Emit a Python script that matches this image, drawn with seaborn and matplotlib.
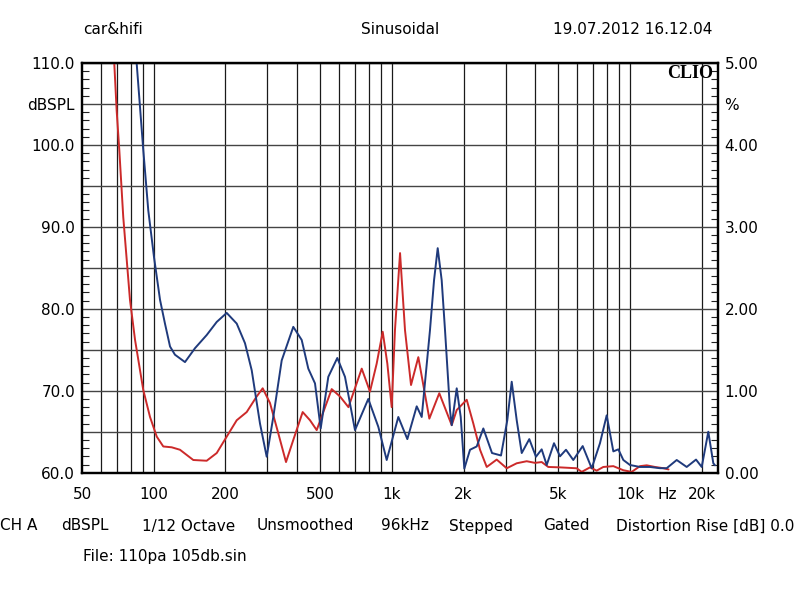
import numpy as np
import pandas as pd
import matplotlib
matplotlib.use("Agg")
import matplotlib.pyplot as plt
import seaborn as sns
from matplotlib.ticker import FixedLocator, NullFormatter, FixedFormatter

# ---------------- data ----------------
freq_blue = [81.1, 84.8, 90.4, 94.9, 100.3, 106.3, 111.5, 117.1, 122.8, 135.3, 149.1,
             166.9, 183.9, 202.5, 223.1, 241.7, 257.9, 279.4, 298.1, 317.7, 344.6,
             385.5, 418.1, 445.7, 475.5, 502.4, 540.8, 589.9, 635.4, 699.9, 795.9,
             876.9, 951.0, 1064, 1161, 1271, 1334, 1445, 1503, 1557, 1618, 1671,
             1754, 1783, 1871, 1945, 2014, 2128, 2270, 2420, 2632, 2871, 3051, 3184,
             3342, 3508, 3774, 4026, 4254, 4465, 4792, 5078, 5381, 5774, 6324, 6899,
             7474, 7975, 8504, 8925, 9367, 9989, 11005, 12118, 13350, 14245, 15693,
             17282, 18914, 19984, 21298, 22355, 22726]
thd_blue = [5.70, 5.00, 3.94, 3.20, 2.63, 2.11, 1.82, 1.54, 1.44, 1.35, 1.52,
            1.68, 1.84, 1.95, 1.82, 1.58, 1.25, 0.60, 0.195, 0.68, 1.37,
            1.78, 1.62, 1.27, 1.09, 0.54, 1.17, 1.40, 1.17, 0.52, 0.90,
            0.56, 0.155, 0.68, 0.41, 0.81, 0.68, 1.74, 2.35, 2.74, 2.35, 1.74,
            0.76, 0.58, 1.03, 0.68, 0.05, 0.28, 0.32, 0.54, 0.24, 0.21, 0.64, 1.11,
            0.64, 0.24, 0.41, 0.195, 0.285, 0.094, 0.36, 0.20, 0.28, 0.155, 0.325, 0.054,
            0.36, 0.70, 0.26, 0.285, 0.155, 0.094, 0.07, 0.07, 0.055, 0.055, 0.155,
            0.07, 0.16, 0.07, 0.50, 0.115, 0.09]

freq_red = [66.8, 68.3, 69.9, 71.7, 74.5, 79.5, 83.5, 90.4, 96.5, 103.0, 109.7, 119.0,
            128.9, 146.6, 166.9, 183.9, 202.5, 223.1, 245.7, 270.6, 286.8, 307.8,
            333.5, 359.3, 385.5, 422.1, 453.1, 483.4, 558.8, 605.6, 657, 747, 809,
            863, 915, 957, 998, 1030, 1082, 1135, 1203, 1291, 1436, 1581, 1783, 1871,
            2061, 2197, 2344, 2501, 2754, 3034, 3342, 3680, 3988, 4254, 4535, 5078,
            5967, 6264, 6787, 7240, 7717, 8504, 9367, 10155, 11005, 11740, 12720,
            13784, 14500]
thd_red = [5.55, 5.00, 4.42, 3.94, 3.12, 2.11, 1.62, 1.01, 0.68, 0.44, 0.32, 0.31,
           0.28, 0.155, 0.146, 0.24, 0.44, 0.64, 0.74, 0.93, 1.03, 0.85,
           0.48, 0.13, 0.40, 0.74, 0.64, 0.52, 1.02, 0.93, 0.80, 1.27, 0.99,
           1.33, 1.72, 1.33, 0.80, 1.74, 2.68, 1.74, 1.07, 1.41, 0.66, 0.97, 0.58, 0.765,
           0.89, 0.60, 0.28, 0.07, 0.16, 0.054, 0.115, 0.14, 0.12, 0.13, 0.07, 0.065,
           0.054, 0.01, 0.065, 0.025, 0.07, 0.08, 0.03, 0.01, 0.08, 0.09, 0.07,
           0.055, 0.04]

grid_freqs = [60, 70, 80, 90, 100, 200, 300, 400, 500, 600, 700, 800, 900, 1000,
              2000, 3000, 4000, 5000, 6000, 7000, 8000, 9000, 10000, 20000]
xlabel_freqs = [50, 100, 200, 500, 1000, 2000, 5000, 10000, 14285, 20000]
xlabel_texts = ["50", "100", "200", "500", "1k", "2k", "5k", "10k", "Hz", "20k"]
db_ticks = [60, 65, 70, 75, 80, 85, 90, 95, 100, 105, 110]
db_labels = ["60.0", "", "70.0", "", "80.0", "", "90.0", "", "100.0", "dBSPL", "110.0"]
pct_ticks = [0, 0.5, 1, 1.5, 2, 2.5, 3, 3.5, 4, 4.5, 5]
pct_labels = ["0.00", "", "1.00", "", "2.00", "", "3.00", "", "4.00", "%", "5.00"]

header = [("car&hifi", 113), ("Sinusoidal", 400), ("19.07.2012 16.12.04", 633)]
footer = [("CH A", 0), ("dBSPL", 61), ("1/12 Octave", 142), ("Unsmoothed", 257),
          ("96kHz", 381), ("Stepped", 449), ("Gated", 543),
          ("Distortion Rise [dB] 0.0", 616)]

# ---------------- style ----------------
sns.set_style("white")
plt.rcParams["font.family"] = ["DejaVu Sans"]
plt.rcParams["text.color"] = "black"
plt.rcParams["xtick.color"] = "black"
plt.rcParams["ytick.color"] = "black"
plt.rcParams["axes.labelcolor"] = "black"
FS = 11

W, H = 800, 597
fig = plt.figure(figsize=(W / 100, H / 100), dpi=100)
L, R, T, B = 82, 717.6, 63, 472.7
ax = fig.add_axes([L / W, 1 - B / H, (R - L) / W, (B - T) / H])
ax.set_xscale("log")
ax.set_xlim(50, 23300)
ax.set_ylim(60, 110)
ax2 = ax.twinx()
ax2.set_ylim(0, 5)

blue_df = pd.DataFrame({"f": freq_blue, "v": thd_blue})
red_df = pd.DataFrame({"f": freq_red, "v": thd_red})
sns.lineplot(data=red_df, x="f", y="v", ax=ax2, color="#cc2a2a", lw=1.4, estimator=None)
sns.lineplot(data=blue_df, x="f", y="v", ax=ax2, color="#1f3a7c", lw=1.4, estimator=None)
for a in (ax, ax2):
    a.set_xlabel("")
    a.set_ylabel("")
ax.set_xlim(50, 23300)
ax2.set_ylim(0, 5)

# x grid / labels
ax.xaxis.remove_overlapping_locs = False
ax.xaxis.set_major_locator(FixedLocator(grid_freqs))
ax.xaxis.set_major_formatter(NullFormatter())
ax.xaxis.set_minor_locator(FixedLocator(xlabel_freqs))
ax.xaxis.set_minor_formatter(FixedFormatter(xlabel_texts))
ax.tick_params(axis="x", which="both", length=0, pad=10, labelsize=FS, colors="black")
ax.grid(True, axis="x", which="major", color="#1a1a1a", lw=0.9)
ax.grid(False, axis="x", which="minor")

# left y
ax.yaxis.set_major_locator(FixedLocator(db_ticks))
ax.yaxis.set_major_formatter(FixedFormatter(db_labels))
ax.yaxis.set_minor_locator(FixedLocator(np.arange(60, 111, 1)))
ax.tick_params(axis="y", which="major", length=0, pad=5, labelsize=FS)
ax.tick_params(axis="y", which="minor", direction="in", length=5, width=0.8, color="#222")
ax.grid(True, axis="y", which="major", color="#444444", lw=1.0)

# right y (%)
ax2.yaxis.set_major_locator(FixedLocator(pct_ticks))
ax2.yaxis.set_major_formatter(FixedFormatter(pct_labels))
ax2.yaxis.set_minor_locator(FixedLocator(np.round(np.arange(0, 5.01, 0.1), 2)))
ax2.tick_params(axis="y", which="major", length=0, pad=5, labelsize=FS)
ax2.tick_params(axis="y", which="minor", direction="in", length=5, width=0.8, color="#222")
ax2.grid(False)

for a in (ax, ax2):
    for s in a.spines.values():
        s.set_linewidth(1.6)
        s.set_color("black")
        s.set_visible(True)

# CLIO logo
fig.text(713 / W, 1 - 73 / H, "CLIO", ha="right", va="center",
         family=["Liberation Serif", "DejaVu Serif"], weight="bold", size=13)

for txt, x in header:
    fig.text(x / W, 1 - 30 / H, txt, ha="center", va="center", size=FS)
for txt, x in footer:
    fig.text(x / W, 1 - 526 / H, txt, ha="left", va="center", size=FS)
fig.text(83 / W, 1 - 556 / H, "File: 110pa 105db.sin", ha="left", va="center", size=FS)

fig.savefig("out.png", dpi=100, facecolor="white")
